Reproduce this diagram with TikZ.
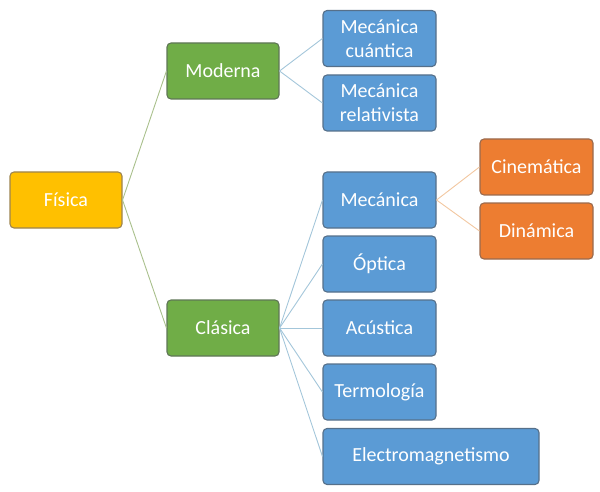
\documentclass[tikz,border=0pt]{standalone}
\usepackage{fontspec}
\setmainfont{Carlito}
\definecolor{cyel}{HTML}{FFC000}
\definecolor{cyelb}{HTML}{9C8450}
\definecolor{cgrn}{HTML}{70AD47}
\definecolor{cgrnb}{HTML}{5F7656}
\definecolor{cblu}{HTML}{5B9BD5}
\definecolor{cblub}{HTML}{56708A}
\definecolor{corg}{HTML}{ED7D31}
\definecolor{corgb}{HTML}{9A6A4E}
\definecolor{lgrn}{HTML}{A9C08C}
\definecolor{lblu}{HTML}{A3C6DA}
\definecolor{lorg}{HTML}{F2C7A0}
\begin{document}
\begin{tikzpicture}[x=1pt,y=-1pt,
  box/.style={rectangle,rounded corners=4pt,line width=1.1pt,text=white,
    font=\fontsize{20}{24}\selectfont,align=center,inner sep=0pt,
    minimum width=112pt,minimum height=56pt},
  ybox/.style={box,fill=cyel,draw=cyelb},
  gbox/.style={box,fill=cgrn,draw=cgrnb},
  bbox/.style={box,fill=cblu,draw=cblub,minimum width=113pt},
  obox/.style={box,fill=corg,draw=corgb,minimum width=113pt},
  gline/.style={draw=lgrn,line width=0.9pt},
  bline/.style={draw=lblu,line width=0.9pt},
  oline/.style={draw=lorg,line width=0.9pt}]
\useasboundingbox (0,0) rectangle (600,492);
\node[ybox] (fis) at (66,200) {Física};
\node[gbox] (mod) at (223,71) {Moderna};
\node[gbox] (cla) at (223,328) {Clásica};
\node[bbox] (mcu) at (379.5,38.5) {Mecánica\\cuántica};
\node[bbox] (mre) at (379.5,103) {Mecánica\\relativista};
\node[bbox] (mec) at (379.5,200) {Mecánica};
\node[bbox] (opt) at (379.5,264) {Óptica};
\node[bbox] (acu) at (379.5,328) {Acústica};
\node[bbox] (ter) at (379.5,392) {Termología};
\node[bbox,minimum width=216pt] (ele) at (431,456.5) {Electromagnetismo};
\node[obox] (cin) at (536.5,167) {Cinemática};
\node[obox] (din) at (536.5,231) {Dinámica};
\path[gline] (fis.east) -- (mod.west);
\path[gline] (fis.east) -- (cla.west);
\path[bline] (mod.east) -- (mcu.west);
\path[bline] (mod.east) -- (mre.west);
\foreach \n in {mec,opt,acu,ter,ele} \path[bline] (cla.east) -- (\n.west);
\path[oline] (mec.east) -- (cin.west);
\path[oline] (mec.east) -- (din.west);
\end{tikzpicture}
\end{document}
